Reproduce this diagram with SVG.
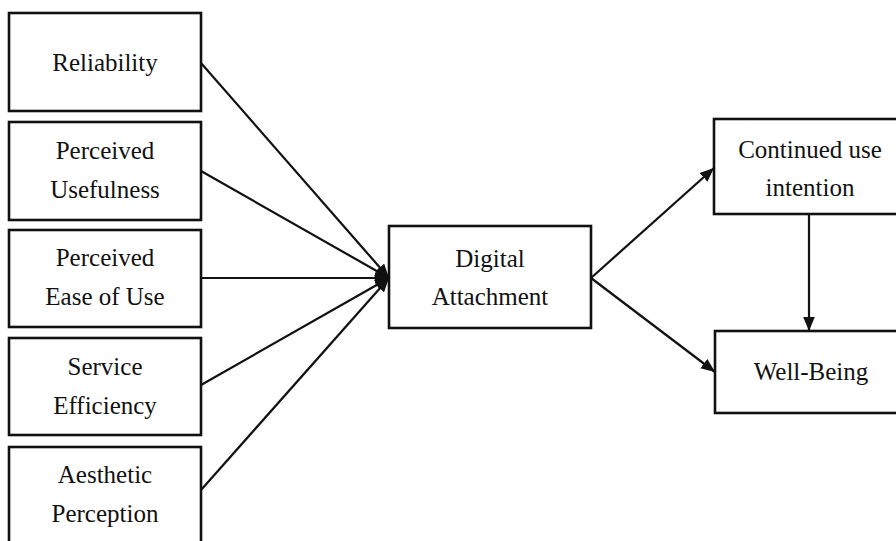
<svg xmlns="http://www.w3.org/2000/svg" width="896" height="541" viewBox="0 0 896 541">
<style>
.box{fill:#fff;stroke:#111;stroke-width:2.6}
.lbl{font-family:"Liberation Serif","Times New Roman",serif;font-size:25px;fill:#111;text-anchor:middle}
.edge{stroke:#111;stroke-width:2.2;fill:none}
</style>
<defs>
<marker id="ah" viewBox="0 0 10 10" refX="10" refY="5" markerWidth="7" markerHeight="7" orient="auto" markerUnits="userSpaceOnUse">
<path d="M0,0 L10,5 L0,10 z" fill="#111"/>
</marker>
<marker id="ahs" viewBox="0 0 12 10" refX="12" refY="5" markerWidth="14" markerHeight="12" orient="auto" markerUnits="userSpaceOnUse">
<path d="M0,0 L12,5 L0,10 z" fill="#111"/>
</marker>
</defs>
<rect width="896" height="541" fill="#fff"/>
<g id="connectors">
<line class="edge" x1="201" y1="63" x2="389" y2="278" marker-end="url(#ahs)"/>
<line class="edge" x1="201" y1="171" x2="389" y2="278" marker-end="url(#ahs)"/>
<line class="edge" x1="201" y1="278" x2="389" y2="278" marker-end="url(#ahs)"/>
<line class="edge" x1="201" y1="385" x2="389" y2="278" marker-end="url(#ahs)"/>
<line class="edge" x1="201" y1="490" x2="389" y2="278" marker-end="url(#ahs)"/>
<line class="edge" x1="591" y1="278" x2="714" y2="168" marker-end="url(#ahs)"/>
<line class="edge" x1="591" y1="278" x2="715" y2="372" marker-end="url(#ahs)"/>
<line class="edge" x1="809" y1="214" x2="809" y2="331" marker-end="url(#ahs)"/>
</g>
<g id="reliability">
<rect class="box" x="9" y="13" width="192" height="98"/>
<text class="lbl" x="105" y="71">Reliability</text>
</g>
<g id="perceived-usefulness">
<rect class="box" x="9" y="122" width="192" height="98"/>
<text class="lbl" x="105" y="159">Perceived</text>
<text class="lbl" x="105" y="198">Usefulness</text>
</g>
<g id="perceived-ease">
<rect class="box" x="9" y="230" width="192" height="97"/>
<text class="lbl" x="105" y="266">Perceived</text>
<text class="lbl" x="105" y="305">Ease of Use</text>
</g>
<g id="service-efficiency">
<rect class="box" x="9" y="338" width="192" height="97"/>
<text class="lbl" x="105" y="375">Service</text>
<text class="lbl" x="105" y="414">Efficiency</text>
</g>
<g id="aesthetic-perception">
<rect class="box" x="9" y="447" width="192" height="98"/>
<text class="lbl" x="105" y="483">Aesthetic</text>
<text class="lbl" x="105" y="522">Perception</text>
</g>
<g id="digital-attachment">
<rect class="box" x="389" y="226" width="202" height="102"/>
<text class="lbl" x="490" y="267">Digital</text>
<text class="lbl" x="490" y="305">Attachment</text>
</g>
<g id="continued-use">
<rect class="box" x="714" y="119" width="194" height="95"/>
<text class="lbl" x="810" y="158">Continued use</text>
<text class="lbl" x="810" y="196">intention</text>
</g>
<g id="well-being">
<rect class="box" x="715" y="331" width="193" height="82"/>
<text class="lbl" x="811" y="380">Well-Being</text>
</g>
</svg>
